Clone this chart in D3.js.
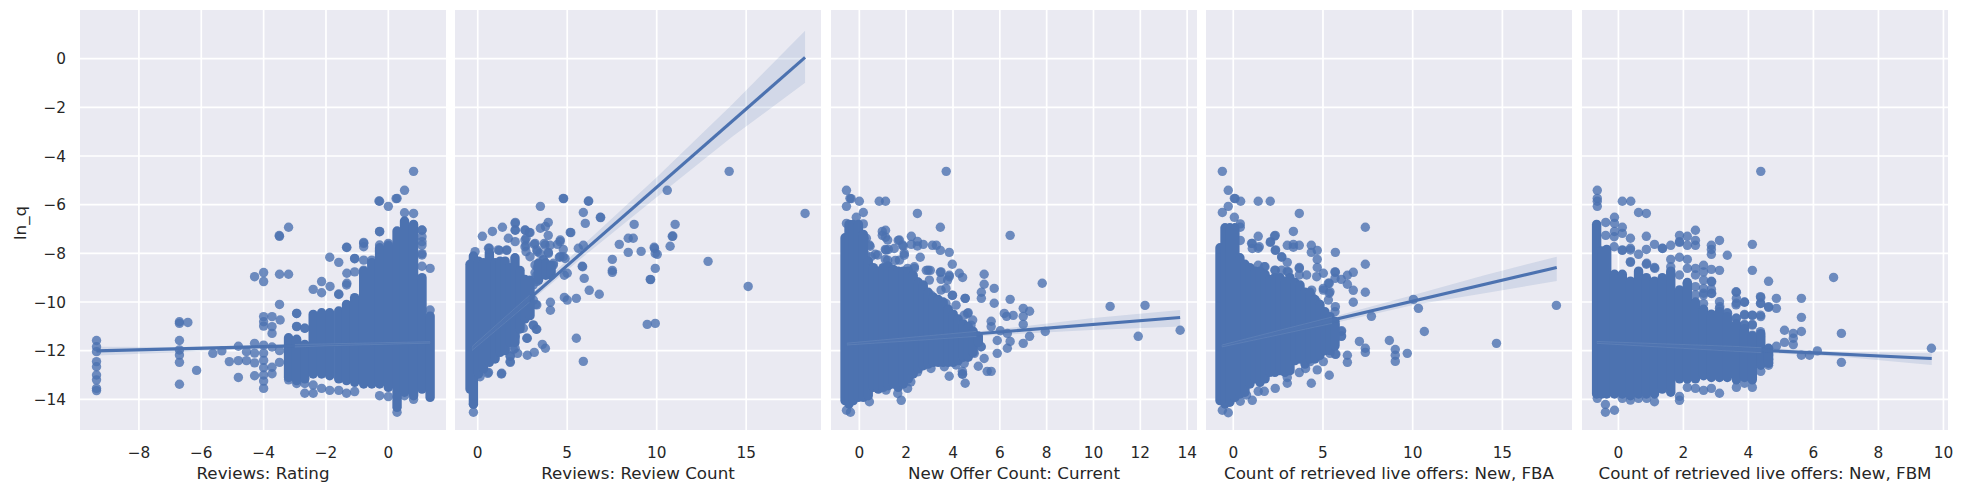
<!DOCTYPE html>
<html><head><meta charset="utf-8">
<script src="https://cdn.jsdelivr.net/npm/d3@7"></script>
<style>html,body{margin:0;padding:0;background:#fff}svg{display:block}text{font-family:"DejaVu Sans",sans-serif;fill:#262626}</style>
</head><body><div id="chart"></div>
<script>
const yTicks=[0,-2,-4,-6,-8,-10,-12,-14];
const yLabel="ln_q";
const labels=["Reviews: Rating","Reviews: Review Count","New Offer Count: Current","Count of retrieved live offers: New, FBA","Count of retrieved live offers: New, FBM"];
const xTicks=[[-8,-6,-4,-2,0],[0,5,10,15],[0,2,4,6,8,10,12,14],[0,5,10,15],[0,2,4,6,8,10]];
const xDomains=[[-9.89,1.85],[-1.27,19.18],[-1.21,14.42],[-1.52,18.88],[-1.12,10.14]];
const yDomain=[-15.26,2.0];

const points1=[[.81,-4.63],[.52,-5.41],[.28,-5.74],[.25,-5.75],[-.28,-5.86],[-.3,-5.85],[0,-6.07],[.81,-6.36],[.52,-6.33],[-.28,-7.1],[-3.2,-6.93],[-3.49,-7.3],[-3.5,-7.27],[-1.88,-8.16],[-1.59,-8.37],[-1.34,-7.75],[-.79,-7.55],[-.79,-7.73],[-1.08,-8.22],[-3.49,-8.86],[-3.2,-8.86],[-4,-8.79],[-4.29,-8.96],[-4,-9.16],[-2.14,-9.16],[-1.87,-9.36],[-2.41,-9.48],[-2.14,-9.62],[-1.59,-9.67],[-1.34,-9.3],[-3.49,-10.1],[-2.94,-10.47],[-4,-10.6],[-3.73,-10.6],[-3.47,-10.74],[-4,-10.81],[-4,-10.99],[-3.73,-11.01],[-3.73,-11.29],[-2.94,-11.01],[-2.68,-11.08],[-6.7,-10.81],[-6.43,-10.84],[-6.7,-10.88],[-6.7,-11.58],[-6.7,-11.97],[-6.7,-12.18],[-6.7,-12.48],[-6.7,-13.38],[-6.15,-12.81],[-5.63,-12.11],[-5.34,-12.01],[-5.1,-12.45],[-4.81,-12.41],[-4.81,-11.82],[-4.81,-13.1],[-4.55,-12.04],[-4.55,-12.41],[-4.29,-11.7],[-4.29,-12.1],[-4.29,-12.5],[-4.29,-13.03],[-4,-11.77],[-4,-12.1],[-4,-12.4],[-4,-12.7],[-4,-13],[-4,-13.25],[-4,-13.55],[-3.73,-11.85],[-3.73,-12.68],[-3.73,-12.95],[-3.49,-12],[-3.49,-12.48],[-9.36,-11.58],[-9.36,-11.84],[-9.36,-12.04],[-9.36,-12.45],[-9.36,-12.66],[-9.36,-13],[-9.36,-13.2],[-9.36,-13.55],[-9.36,-13.64],[1.08,-7.05],[1.08,-7.32],[1.08,-7.66],[1.08,-8.01],[1.34,-8.62],[1.08,-8.53],[-.53,-8.41],[-.28,-7.9],[0,-7.66],[-2.68,-13.75],[-2.41,-13.41],[-2.41,-13.75],[-2.14,-13.55],[-1.88,-13.63],[-1.59,-13.63],[-1.34,-13.75],[-1.08,-13.68],[-.28,-13.85],[0,-13.89],[.52,-13.85],[.81,-14],[.28,-14.53],[-3.2,-13.2],[-2.94,-13.35],[-2.68,-13.35],[-1.59,-9.69],[-1.33,-9.23],[-1.33,-8.82],[-1.33,-7.76],[-1.08,-8.21],[-1.08,-8.76],[-.79,-7.59],[-.79,-8.28],[-.79,-8.69],[-.53,-8.28],[-.28,-7.11],[-.28,-7.66],[0,-7.59],[1.08,-7.04],[1.08,-7.52],[1.08,-8.07],[1.34,-10.33],[-2.94,-11],[-2.68,-11.08],[-2.94,-10.47]];
const points2=[[14.05,-4.63],[18.29,-6.36],[10.59,-5.41],[4.78,-5.74],[4.8,-5.75],[6.18,-5.86],[6.2,-5.85],[3.5,-6.07],[5.9,-6.32],[6.85,-6.52],[6.87,-6.53],[6.01,-6.77],[8.74,-6.81],[11.03,-6.81],[3.94,-6.73],[2.1,-6.73],[2.1,-7.05],[1.38,-6.93],[.82,-7.1],[.26,-7.3],[1.71,-7.38],[2.66,-7.05],[2.88,-7.14],[3.5,-6.97],[3.78,-6.9],[3.94,-7.26],[5.17,-7.14],[5.2,-7.15],[10.87,-7.3],[10.9,-7.29],[8.41,-7.38],[8.69,-7.38],[7.91,-7.63],[4.61,-7.45],[4.45,-7.63],[3.72,-7.59],[3.16,-7.63],[4.04,-7.67],[10.75,-7.71],[9.86,-7.75],[9.88,-7.8],[5.9,-7.67],[5.62,-7.79],[4.78,-7.84],[.65,-7.79],[1.21,-7.88],[1.62,-7.88],[3.94,-7.96],[3.33,-7.93],[8.41,-7.96],[9.13,-7.92],[9.92,-8],[10.03,-8.04],[4.56,-8.16],[4.78,-8.14],[7.52,-8.25],[3.67,-8.27],[12.87,-8.33],[5.84,-8.53],[5.86,-8.55],[4.22,-8.49],[3.33,-8.58],[3.67,-8.62],[9.92,-8.62],[7.52,-8.7],[7.52,-8.78],[5,-8.82],[4.84,-8.9],[5.95,-9.03],[9.64,-9.07],[9.66,-9.08],[15.11,-9.36],[6.23,-9.52],[6.79,-9.68],[4.84,-9.81],[5,-9.92],[5.51,-9.85],[4.06,-10.01],[4.06,-10.34],[3.24,-10.1],[2.66,-10.47],[9.47,-10.92],[9.92,-10.88],[3.11,-10.96],[3.27,-11.12],[5.51,-11.49],[2.77,-11.49],[3.61,-11.74],[3.78,-11.9],[5.9,-12.44],[3.16,-12.07],[2.77,-12.19],[2.23,-12.11],[1.99,-11.95],[1.82,-12.48],[1.82,-12.23],[1.32,-12.96],[.6,-12.89],[.13,-13.07],[2.7,-7.38],[2.7,-7.67],[2.7,-7.93],[2.92,-8.14],[-.24,-14.53],[-.24,-14.2],[3.2,-8.8],[3.5,-8.75],[2.9,-9.6],[3.1,-9.3],[2.09,-6.77],[2.09,-7.04],[2.64,-7.04],[2.92,-7.15],[2.09,-7.52],[2.64,-7.45],[2.64,-7.73],[3.2,-7.59],[3.3,-7.86],[3.76,-7.66],[3.95,-8],[3.48,-8],[4.6,-7.52],[4.6,-8.14],[4.88,-8.21],[4.23,-8.41],[3.67,-8.27],[3.2,-8.48],[3.3,-8.89],[3.3,-9.16],[2.83,-9.44],[3.11,-9.92],[2.46,-9.78],[3.3,-10.12],[2.74,-10.33],[2.46,-10.74],[3.11,-10.94],[3.3,-11.12],[2.55,-11.08],[2.74,-11.49],[2.09,-10.88],[2.09,-11.42],[1.71,-11.42],[2.09,-11.9],[1.81,-12.22],[1.81,-12.45],[1.34,-12.93],[.56,-12.93],[1.15,-7.86],[1.62,-7.86],[-.15,-7.93],[.6,-7.79]];
const points3=[[3.71,-4.63],[-.55,-5.41],[-.4,-5.74],[-.35,-5.75],[0,-5.86],[.85,-5.86],[1.12,-5.86],[-.55,-6.07],[.17,-6.32],[2.48,-6.36],[-.13,-6.52],[.17,-6.79],[3.46,-6.93],[-.55,-6.77],[.98,-7.1],[1.12,-7.05],[.98,-7.26],[1.12,-7.34],[6.44,-7.26],[.3,-7.38],[2.22,-7.3],[1.66,-7.47],[2.48,-7.51],[2.22,-7.63],[2.73,-7.63],[2.48,-7.7],[3.12,-7.67],[3.29,-7.67],[1.88,-7.71],[.46,-7.71],[1.11,-7.84],[1.24,-7.84],[3.46,-7.88],[3.84,-7.96],[.68,-8.04],[1.92,-8.08],[1.11,-8.25],[2.6,-8.16],[1.54,-8.29],[3.97,-8.45],[2.35,-8.55],[2.86,-8.7],[3.03,-8.7],[4.27,-8.82],[4.41,-8.99],[5.33,-8.86],[3.46,-8.78],[3.84,-8.9],[5.33,-9.27],[7.81,-9.23],[5.76,-9.44],[5.21,-9.6],[5.21,-9.85],[3.97,-9.73],[4.52,-9.85],[6.44,-9.89],[5.76,-10.05],[10.71,-10.18],[12.2,-10.14],[7,-10.26],[7.27,-10.38],[6.19,-10.47],[6.29,-10.59],[6.57,-10.55],[7,-10.59],[7,-10.92],[4.65,-10.44],[5.63,-10.79],[5.63,-11.01],[7.94,-11.21],[13.7,-11.16],[6.02,-11.18],[6.32,-11.29],[11.91,-11.41],[7.27,-11.41],[5.89,-11.58],[6.44,-11.62],[7,-11.7],[6.32,-11.9],[5.89,-12.11],[5.21,-11.84],[5.33,-12.32],[5.08,-12.64],[5.46,-12.85],[5.63,-12.85],[3.84,-13.05],[4.4,-12.97],[4.4,-12.85],[4.52,-13.34],[1.79,-14.04],[-.38,-14.53],[-.55,-14.45],[1.71,-7.45],[1.85,-7.66],[1.92,-8],[1.21,-7.45],[1.49,-7.8],[1.14,-7.87],[1.21,-8.28],[1.71,-8.28],[.43,-7.66],[.21,-7.39],[.28,-8.07],[.78,-8.07],[.5,-8.14],[2.35,-8.62],[2.06,-8.62],[2.94,-8.69],[3.49,-8.76],[3.84,-8.96],[3.77,-9.1],[3.49,-9.07],[2.99,-9.1],[2.49,-9.17],[2.2,-9.37],[2.6,-9.65],[3.06,-9.72],[3.49,-9.51],[3.7,-9.44],[3.98,-9.72],[3.7,-10.06],[4.13,-10.13],[4.52,-9.85],[3.2,-10.19],[2.63,-10.33],[4.48,-10.54],[4.62,-10.47],[4.84,-10.74],[4.77,-10.95],[3.91,-10.74],[4.41,-11.15],[3.49,-10.88],[3.06,-10.47],[4.91,-12.11],[4.48,-12.52],[4.13,-12.59],[4.41,-12.96],[3.63,-12.66],[3.06,-12.73],[2.49,-12.87],[2.2,-13.28],[2.06,-13.55],[1.64,-13.76],[1.14,-13.62],[.43,-14.1],[5.19,-11.84],[4.77,-11.7],[4.41,-12.11],[4.62,-11.98]];
const points4=[[-.61,-4.63],[-.28,-5.41],[.06,-5.74],[.1,-5.75],[.41,-5.86],[1.39,-5.86],[2.06,-5.86],[-.28,-6.07],[-.61,-6.32],[3.68,-6.36],[.06,-6.52],[.39,-6.79],[.39,-6.93],[7.36,-6.93],[3.35,-7.1],[2.34,-7.26],[2.3,-7.29],[1.39,-7.3],[.39,-7.47],[2.06,-7.55],[1.06,-7.59],[3.01,-7.67],[3.35,-7.63],[3.68,-7.67],[3.35,-7.75],[4.35,-7.67],[1.39,-7.79],[1.06,-7.8],[2.34,-7.88],[4.68,-7.88],[4.35,-7.96],[5.69,-7.96],[2.7,-8.16],[4.68,-8.25],[3.01,-8.37],[7.36,-8.45],[1.39,-8.49],[1.73,-8.55],[4.68,-8.58],[3.68,-8.58],[2.34,-8.7],[3.01,-8.74],[5.02,-8.82],[5.69,-8.78],[6.69,-8.78],[6.36,-8.9],[6.02,-9.07],[6.36,-9.27],[6.69,-9.52],[7.36,-9.6],[5.35,-9.23],[5.02,-9.44],[5.35,-9.64],[6.69,-10.01],[5.69,-10.19],[10.04,-9.89],[10.32,-10.26],[7.7,-10.59],[18.01,-10.14],[6.02,-11.21],[6.02,-11.41],[10.65,-11.21],[8.7,-11.58],[7.03,-11.62],[7.36,-11.9],[7.36,-12.07],[9.03,-11.95],[9.03,-12.19],[9.03,-12.44],[9.7,-12.11],[14.67,-11.7],[6.36,-12.19],[6.36,-12.48],[5.69,-12.15],[5.35,-13.01],[4.68,-12.11],[4.68,-12.79],[5.02,-12.45],[4.35,-13.34],[3.01,-13.34],[2.34,-13.55],[1.73,-13.67],[1.39,-13.67],[1.06,-14.04],[.39,-14.08],[-.28,-14.55],[-.61,-14.45],[3.68,-12.9],[3.01,-13.1],[1.02,-7.59],[1.45,-7.73],[2.08,-7.52],[2.36,-7.86],[2.7,-8.14],[1.77,-8.55],[2.32,-8.69],[2.7,-8.69],[3.07,-8.76],[3.68,-8.62],[3.68,-8.89],[4.09,-8.89],[4.65,-8.96],[5.67,-8.76],[5.67,-9.03],[5.3,-9.23],[5.02,-9.51],[5.39,-9.58],[4.37,-9.51],[4.37,-9.78],[2.97,-9.92],[3.35,-9.65],[3.72,-9.51],[3.72,-9.85],[4.65,-9.99],[5.3,-9.92],[5.67,-10.4],[5.02,-10.47],[6.04,-11.18],[6.04,-11.4],[5.39,-11.36],[5.39,-11.7],[5.67,-10.95],[4.65,-11.84],[5.39,-12.11],[5.72,-12.14],[4.03,-12.73],[4.28,-12.45],[.74,-13.82]];
const points5=[[4.38,-4.63],[-.65,-5.41],[-.65,-5.74],[-.65,-5.86],[-.65,-6.07],[.12,-5.86],[.38,-5.86],[.62,-6.32],[.86,-6.36],[-.12,-6.52],[-.12,-6.77],[-.39,-6.73],[.12,-6.93],[.12,-7.18],[2.37,-7.05],[-.12,-7.1],[-.39,-7.26],[1.88,-7.26],[2.12,-7.3],[.86,-7.3],[.37,-7.38],[2.37,-7.47],[1.88,-7.55],[3.11,-7.47],[1.11,-7.63],[2.12,-7.67],[2.37,-7.67],[2.86,-7.67],[2.86,-7.84],[2.86,-8.04],[4.12,-7.63],[1.35,-7.79],[1.61,-7.67],[.86,-7.84],[.37,-7.79],[.12,-7.88],[.62,-8.04],[3.35,-8.08],[1.61,-8.25],[1.88,-8.16],[2.12,-8.25],[.37,-8.37],[.86,-8.45],[1.11,-8.58],[2.62,-8.49],[2.37,-8.62],[2.86,-8.66],[3.11,-8.7],[4.12,-8.7],[6.62,-8.99],[4.62,-9.15],[2.86,-9.15],[2.86,-9.48],[2.86,-9.64],[2.12,-9.23],[2.37,-9.37],[2.62,-9.44],[2.62,-9.64],[3.63,-9.6],[3.63,-9.85],[3.63,-10.05],[3.88,-10.01],[4.38,-9.81],[4.38,-10.05],[4.86,-9.85],[4.86,-10.26],[4.62,-10.22],[5.63,-9.85],[5.63,-10.63],[3.11,-9.99],[3.11,-10.26],[3.35,-10.44],[3.88,-10.51],[4.12,-10.55],[4.38,-10.6],[3.63,-10.67],[3.88,-10.92],[4.12,-10.92],[5.11,-11.16],[5.38,-11.29],[5.38,-11.49],[5.38,-11.75],[5.63,-11.21],[6.86,-11.29],[5.11,-11.66],[4.86,-11.82],[6.12,-12.01],[9.63,-11.9],[5.63,-12.19],[5.88,-12.19],[6.86,-12.48],[4.62,-12.6],[4.62,-12.35],[4.38,-12.85],[4.12,-13.1],[4.12,-13.51],[3.63,-13.51],[3.11,-13.75],[2.86,-13.55],[2.62,-13.63],[2.37,-13.55],[2.12,-13.51],[1.88,-13.88],[1.88,-14.04],[1.11,-14.1],[-.12,-14.45],[-.4,-14.53],[-.4,-14.21],[-.13,-7.32],[-.13,-7.73],[.12,-7.86],[.37,-7.86],[.37,-8.34],[.87,-8.41],[1.12,-8.62],[1.36,-7.8],[1.61,-8.55],[1.88,-7.52],[1.88,-8.89],[2.12,-8.62],[1.88,-9.89],[2.37,-8.89],[2.37,-9.71],[2.62,-8.76],[2.62,-9.1],[2.62,-9.71],[2.62,-10.06],[2.87,-9.17],[2.87,-9.65],[3.12,-10.19],[3.12,-10.54],[3.36,-10.47],[2.87,-10.6],[2.62,-10.95],[3.62,-9.58],[3.62,-10.12],[3.88,-10],[3.62,-10.67],[3.88,-10.54],[4.12,-10.54],[4.37,-9.78],[4.37,-10.06],[4.37,-10.54],[4.12,-11.36],[4.37,-11.22],[4.37,-11.43],[4.62,-10.19],[3.88,-10.95],[4.12,-10.95],[4.62,-12.18],[4.62,-12.52],[3.88,-13.34],[.87,-13.96],[.62,-13.96],[.37,-14.03],[.12,-13.96],[-.65,-13.96]];

// Overplotted mass where individual dots cannot be read: [x, lowest centre, highest centre]
const core1=[[-3.2,-13.1,-11.47],[-2.94,-13.23,-11.53],[-2.68,-13.16,-11.74],[-2.41,-12.96,-10.51],[-2.14,-12.96,-10.44],[-1.88,-13.03,-10.44],[-1.59,-13.16,-10.37],[-1.34,-13.23,-10.1],[-1.08,-13.3,-9.82],[-.79,-13.37,-8.73],[-.53,-13.37,-8.38],[-.28,-13.37,-7.77],[0,-13.51,-7.7],[.28,-14.33,-7.08],[.52,-13.71,-6.67],[.81,-13.85,-6.81],[1.08,-13.58,-9],[1.34,-13.92,-10.58]];
const core2=[[-.43,-13.58,-8.45],[-.24,-14.19,-8.11],[.04,-12.96,-8.32],[.32,-12.75,-8.38],[.65,-12.48,-7.97],[.97,-12.34,-8.38],[1.25,-12.07,-8.32],[1.53,-12,-8.32],[1.8,-11.66,-8.59],[2.08,-11.66,-8.18],[2.36,-11.11,-8.7],[2.64,-10.7,-9.07],[2.92,-10.56,-9.1],[3.4,-9.1,-8.4],[3.8,-8.9,-8.4],[4.1,-8.9,-8.5]];
const core3=[[-.61,-14.05,-7.36],[-.44,-14.19,-6.81],[-.26,-14.05,-6.81],[-.04,-13.92,-6.81],[.17,-13.92,-7.22],[.38,-13.85,-8.32],[.6,-13.51,-8.59],[.81,-13.58,-8.73],[1.02,-13.51,-8.59],[1.24,-13.44,-8.52],[1.45,-13.37,-8.66],[1.66,-13.51,-8.73],[1.88,-13.37,-8.73],[2.09,-13.16,-8.73],[2.3,-12.96,-8.9],[2.52,-12.75,-9.2],[2.73,-12.62,-9.3],[2.94,-12.55,-9.6],[3.16,-12.48,-9.8],[3.37,-12.48,-9.9],[3.58,-12.48,-10],[3.8,-12.48,-10.3],[4.01,-12.48,-10.5],[4.22,-12.41,-10.7],[4.44,-12.27,-10.9],[4.65,-12.27,-11],[4.86,-12.07,-11.2],[5.08,-11.66,-11.4]];
const core4=[[-.74,-14.05,-7.77],[-.46,-14.19,-6.95],[-.19,-14.12,-6.95],[.09,-13.92,-6.95],[.37,-13.78,-8.18],[.65,-13.71,-8.45],[.93,-13.37,-8.59],[1.21,-13.16,-8.73],[1.49,-13.3,-8.73],[1.77,-13.16,-8.86],[2.04,-12.89,-9.07],[2.32,-12.89,-9],[2.6,-12.82,-9],[2.88,-12.89,-9.14],[3.16,-12.82,-9],[3.44,-12.41,-9.2],[3.72,-12.34,-9.3],[4,-12.55,-9.6],[4.28,-12.34,-9.6],[4.55,-12.34,-9.9],[4.83,-12.2,-10.1],[5.11,-12,-10.4],[5.39,-12,-10.6],[5.67,-11.8,-10.8]];
const core5=[[-.67,-13.78,-6.81],[-.51,-13.78,-7.9],[-.36,-13.78,-7.84],[-.12,-13.78,-8.86],[.12,-13.78,-8.86],[.37,-13.85,-9.14],[.62,-13.78,-8.73],[.86,-13.78,-9],[1.11,-13.78,-9.14],[1.35,-13.58,-9],[1.61,-13.71,-8.73],[1.88,-13.16,-9.5],[2.12,-13.16,-9.2],[2.37,-13.16,-10],[2.62,-13.03,-10.3],[2.86,-13.1,-10.5],[3.11,-13.1,-10.4],[3.35,-13.1,-10.6],[3.63,-13.2,-10.9],[3.88,-13.1,-11.1],[4.12,-13.2,-11.4],[4.38,-12.6,-11.3],[4.62,-12.5,-11.9]];

// Regression lines [[x0,y0],[x1,y1]]
const line1=[[-9.36,-12.01],[1.35,-11.66]];
const line2=[[-.33,-11.93],[18.29,.05]];
const line3=[[-.54,-11.73],[13.7,-10.64]];
const line4=[[-.65,-11.81],[18.03,-8.58]];
const line5=[[-.67,-11.66],[9.64,-12.32]];
// Confidence bands [x, low, high]
const band1=[[-9.36,-12.2,-11.84],[-6.7,-12.06,-11.85],[-4,-11.9,-11.77],[-2,-11.8,-11.72],[1.35,-11.69,-11.63]];
const band2=[[-.33,-12,-11.84],[2.92,-9.99,-9.71],[5.89,-8.14,-7.66],[10.03,-5.67,-4.85],[14.27,-3.18,-1.84],[18.29,-.99,1.15]];
const band3=[[-.54,-11.77,-11.69],[5.67,-11.37,-11.15],[9.9,-11.15,-10.67],[13.7,-11.01,-10.33]];
const band4=[[-.65,-11.85,-11.77],[5.95,-10.81,-10.53],[10.04,-10.12,-9.71],[14,-9.64,-8.9],[18.03,-9.14,-8.14]];
const band5=[[-.67,-11.7,-11.62],[3.5,-12.02,-11.82],[6.87,-12.25,-12.04],[9.64,-12.59,-12.11]];
// Stretch of each band that lies on the mass and shows as a faint lighter streak
const streak=[[-3,1.35],[-.33,2.9],[-.54,5],[-.65,5.5],[-.67,4.4]];

const W=1963,H=493,color="#4c72b0";
const panelLefts=[80,455,831,1206,1582],panelW=366,plotTop=10,plotBottom=430;
const points=[points1,points2,points3,points4,points5],cores=[core1,core2,core3,core4,core5],lines=[line1,line2,line3,line4,line5],bands=[band1,band2,band3,band4,band5];
const svg=d3.select("#chart").append("svg").attr("width",W).attr("height",H);
const y=d3.scaleLinear().domain(yDomain).range([plotBottom,plotTop]);

labels.forEach((lab,i)=>{
  const L=panelLefts[i];
  const x=d3.scaleLinear().domain(xDomains[i]).range([L,L+panelW]);
  const clipId="clip"+i, streakId="streak"+i;
  svg.append("clipPath").attr("id",clipId).append("rect").attr("x",L).attr("y",plotTop).attr("width",panelW).attr("height",plotBottom-plotTop);
  svg.append("clipPath").attr("id",streakId).append("rect").attr("x",x(streak[i][0])).attr("y",plotTop).attr("width",x(streak[i][1])-x(streak[i][0])).attr("height",plotBottom-plotTop);
  const g=svg.append("g");
  g.append("rect").attr("x",L).attr("y",plotTop).attr("width",panelW).attr("height",plotBottom-plotTop).attr("fill","#eaeaf2");
  g.selectAll(".gy").data(yTicks).join("line").attr("x1",L).attr("x2",L+panelW).attr("y1",d=>y(d)).attr("y2",d=>y(d)).attr("stroke","#fff").attr("stroke-width",1.7);
  g.selectAll(".gx").data(xTicks[i]).join("line").attr("y1",plotTop).attr("y2",plotBottom).attr("x1",d=>x(d)).attr("x2",d=>x(d)).attr("stroke","#fff").attr("stroke-width",1.7);

  const plot=g.append("g").attr("clip-path",`url(#${clipId})`);
  plot.selectAll(".pt").data(points[i]).join("circle").attr("cx",d=>x(d[0])).attr("cy",d=>y(d[1])).attr("r",4.7).attr("fill",color).attr("fill-opacity",.8);
  plot.selectAll(".core").data(cores[i]).join("line").attr("x1",d=>x(d[0])).attr("x2",d=>x(d[0])).attr("y1",d=>y(d[1])).attr("y2",d=>y(d[2])).attr("stroke",color).attr("stroke-width",9.4).attr("stroke-linecap","round");
  const area=d3.area().x(d=>x(d[0])).y0(d=>y(d[1])).y1(d=>y(d[2]));
  plot.append("path").attr("d",area(bands[i])).attr("fill",color).attr("fill-opacity",.15);
  const ln=d3.line().x(d=>x(d[0])).y(d=>y(d[1]));
  plot.append("path").attr("d",ln(lines[i])).attr("fill","none").attr("stroke",color).attr("stroke-width",3.1);
  plot.append("g").attr("clip-path",`url(#${streakId})`).append("path").attr("d",area(bands[i])).attr("fill","#fff").attr("fill-opacity",.02).attr("stroke","#fff").attr("stroke-opacity",.11).attr("stroke-width",.8);

  g.selectAll(".xt").data(xTicks[i]).join("text").attr("x",d=>x(d)).attr("y",452).attr("dy","0.36em").attr("text-anchor","middle").attr("font-size",15.3).text(d=>d3.format("")(d).replace("-","\u2212"));
  g.append("text").attr("x",L+panelW/2).attr("y",473).attr("dy","0.36em").attr("text-anchor","middle").attr("font-size",16.7).text(lab);
});
const gy=svg.append("g");
gy.selectAll("text").data(yTicks).join("text").attr("x",66).attr("y",d=>y(d)).attr("dy","0.36em").attr("text-anchor","end").attr("font-size",15.3).text(d=>d3.format("")(d).replace("-","\u2212"));
gy.append("text").attr("transform","translate(20,223) rotate(-90)").attr("dy","0.36em").attr("text-anchor","middle").attr("font-size",16.7).text(yLabel);
</script></body></html>
